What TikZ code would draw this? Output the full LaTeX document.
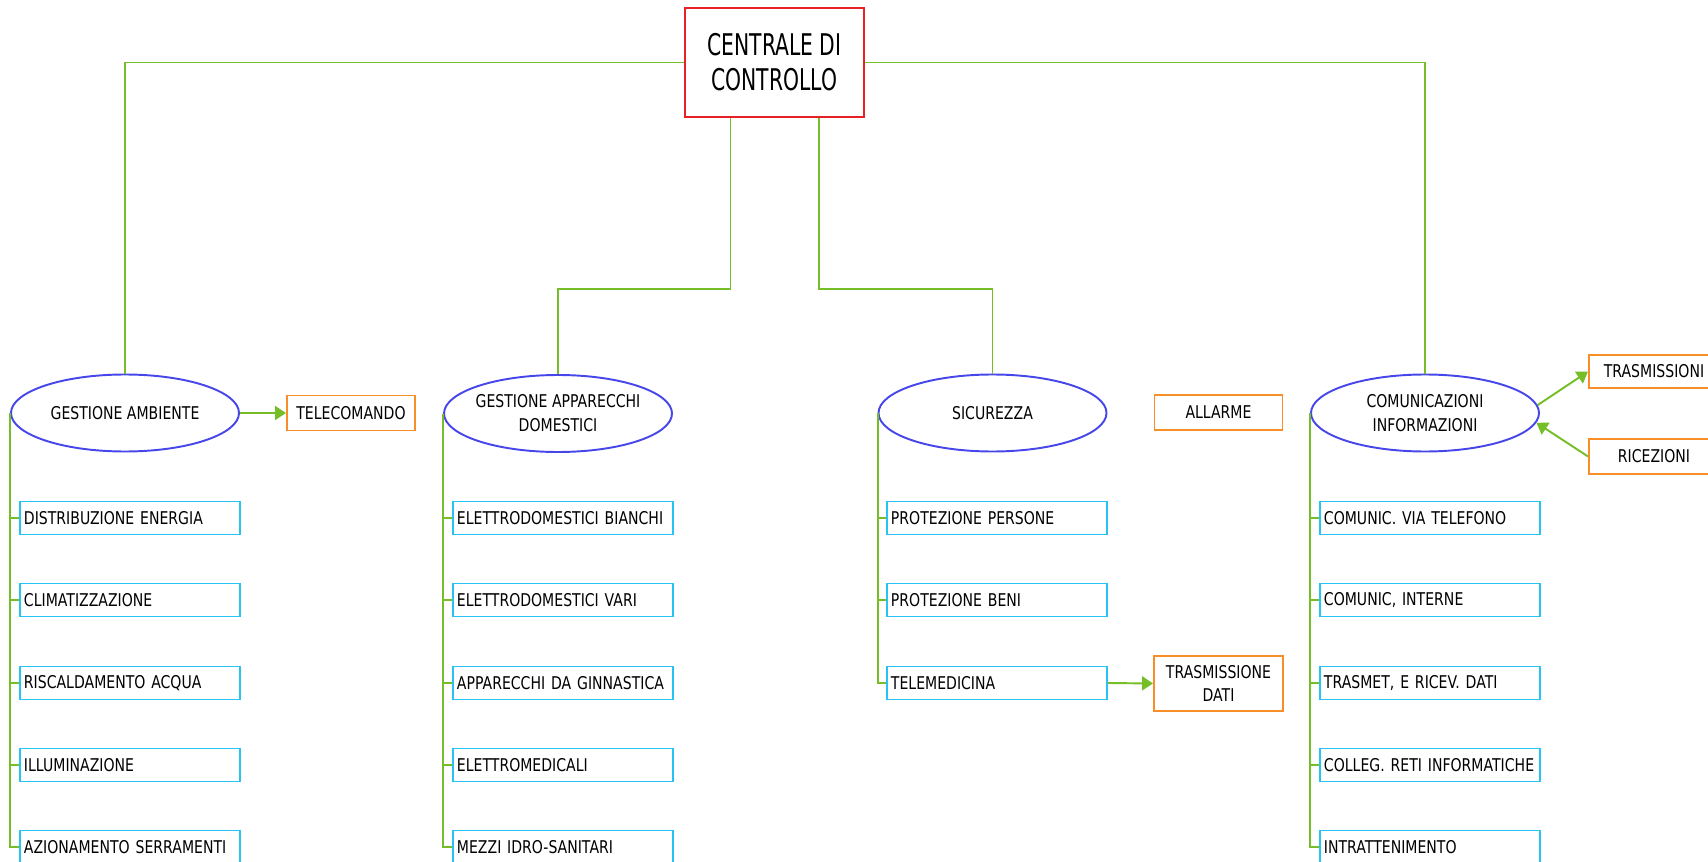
\documentclass[tikz,border=0pt]{standalone}
\usepackage{fontspec}
\setmainfont[FakeStretch=0.8]{DejaVu Sans}
\newfontfamily\bigfont[FakeStretch=0.68]{DejaVu Sans}
\usetikzlibrary{shapes.geometric, arrows.meta}
\definecolor{linkgreen}{RGB}{118,190,40}
\definecolor{mainred}{RGB}{232,32,40}
\definecolor{areablue}{RGB}{70,70,235}
\definecolor{itemcyan}{RGB}{40,195,245}
\definecolor{outorange}{RGB}{248,142,40}
\begin{document}
\begin{tikzpicture}[font=\fontsize{10}{13.6}\selectfont, line join=miter,
	link/.style={draw=linkgreen, line width=1.1pt},
	arrowlink/.style={link, -{Triangle[length=0.22cm, width=0.28cm]}},
	maincell/.style={draw=mainred, line width=1.1pt, minimum width=3.58cm, minimum height=2.18cm, align=center, font=\bigfont\fontsize{17}{20}\selectfont},
	areacell/.style={draw=areablue, line width=1.1pt, ellipse, minimum width=4.56cm, minimum height=1.54cm, inner ysep=0pt, inner xsep=-0.1cm, align=center},
	itemcell/.style={draw=itemcyan, line width=1.1pt, anchor=west, text width=4.24cm, inner xsep=0.08cm, minimum height=0.66cm, align=left},
	outcell/.style={draw=outorange, line width=1.1pt, minimum width=2.56cm, minimum height=0.7cm, inner sep=0pt, align=center}]
	
	\clip (0, 0) rectangle (34.16, -17.24);
	
	% Centrale
	\node[maincell] (cc) at (15.49, -1.25) {CENTRALE DI\\CONTROLLO};
	
	% Aree
	\node[areacell] (ga) at (2.5, -8.26) {GESTIONE AMBIENTE};
	\node[areacell] (gd) at (11.16, -8.27) {GESTIONE APPARECCHI\\DOMESTICI};
	\node[areacell] (si) at (19.85, -8.26) {SICUREZZA};
	\node[areacell] (ci) at (28.5, -8.26) {COMUNICAZIONI\\INFORMAZIONI};
	
	% Uscite
	\node[outcell] (tc) at (7.02, -8.26) {TELECOMANDO};
	\node[outcell] (al) at (24.37, -8.25) {ALLARME};
	\node[outcell, minimum width=2.58cm, minimum height=1.1cm] (td) at (24.37, -13.67) {TRASMISSIONE\\DATI};
	\node[outcell, anchor=west, minimum width=2.6cm, minimum height=0.66cm] (tr) at (31.76, -7.43) {TRASMISSIONI};
	\node[outcell, anchor=west, minimum width=2.6cm] (ri) at (31.76, -9.13) {RICEZIONI};
	
	% Gestione ambiente
	\node[itemcell] (ga1) at (0.38, -10.36) {DISTRIBUZIONE ENERGIA};
	\node[itemcell] (ga2) at (0.38, -12.0) {CLIMATIZZAZIONE};
	\node[itemcell] (ga3) at (0.38, -13.66) {RISCALDAMENTO ACQUA};
	\node[itemcell] (ga4) at (0.38, -15.3) {ILLUMINAZIONE};
	\node[itemcell] (ga5) at (0.38, -16.94) {AZIONAMENTO SERRAMENTI};
	
	% Gestione apparecchi domestici
	\node[itemcell] (gd1) at (9.04, -10.36) {ELETTRODOMESTICI BIANCHI};
	\node[itemcell] (gd2) at (9.04, -12.0) {ELETTRODOMESTICI VARI};
	\node[itemcell] (gd3) at (9.04, -13.66) {APPARECCHI DA GINNASTICA};
	\node[itemcell] (gd4) at (9.04, -15.3) {ELETTROMEDICALI};
	\node[itemcell] (gd5) at (9.04, -16.94) {MEZZI IDRO-SANITARI};
	
	% Sicurezza
	\node[itemcell] (si1) at (17.72, -10.36) {PROTEZIONE PERSONE};
	\node[itemcell] (si2) at (17.72, -12.0) {PROTEZIONE BENI};
	\node[itemcell] (si3) at (17.72, -13.66) {TELEMEDICINA};
	
	% Comunicazioni
	\node[itemcell] (ci1) at (26.38, -10.36) {COMUNIC. VIA TELEFONO};
	\node[itemcell] (ci2) at (26.38, -12.0) {COMUNIC, INTERNE};
	\node[itemcell] (ci3) at (26.38, -13.66) {TRASMET, E RICEV. DATI};
	\node[itemcell] (ci4) at (26.38, -15.3) {COLLEG. RETI INFORMATICHE};
	\node[itemcell] (ci5) at (26.38, -16.94) {INTRATTENIMENTO};
	
	% Collegamenti dalla centrale
	\draw[link] (cc.west) -| (ga.north);
	\draw[link] (cc.east) -| (ci.north);
	\draw[link] ([xshift=-0.88cm]cc.south) -- ++(0, -3.42) -| (gd.north);
	\draw[link] ([xshift=0.89cm]cc.south) -- ++(0, -3.42) -| (si.north);
	
	% Rami
	\draw[link] (ga.west) |- (ga1.west) (ga.west) |- (ga2.west) (ga.west) |- (ga3.west) (ga.west) |- (ga4.west) (ga.west) |- (ga5.west);
	\draw[link] (gd.west) |- (gd1.west) (gd.west) |- (gd2.west) (gd.west) |- (gd3.west) (gd.west) |- (gd4.west) (gd.west) |- (gd5.west);
	\draw[link] (si.west) |- (si1.west) (si.west) |- (si2.west) (si.west) |- (si3.west);
	\draw[link] (ci.west) |- (ci1.west) (ci.west) |- (ci2.west) (ci.west) |- (ci3.west) (ci.west) |- (ci4.west) (ci.west) |- (ci5.west);
	
	% Frecce
	\draw[arrowlink] (ga.east) -- (tc.west);
	\draw[arrowlink] (si3.east) -- (td.west);
	\draw[arrowlink] (ci.4) -- (tr.west);
	\draw[arrowlink] (ri.west) -- (ci.-5);
\end{tikzpicture}
\end{document}
